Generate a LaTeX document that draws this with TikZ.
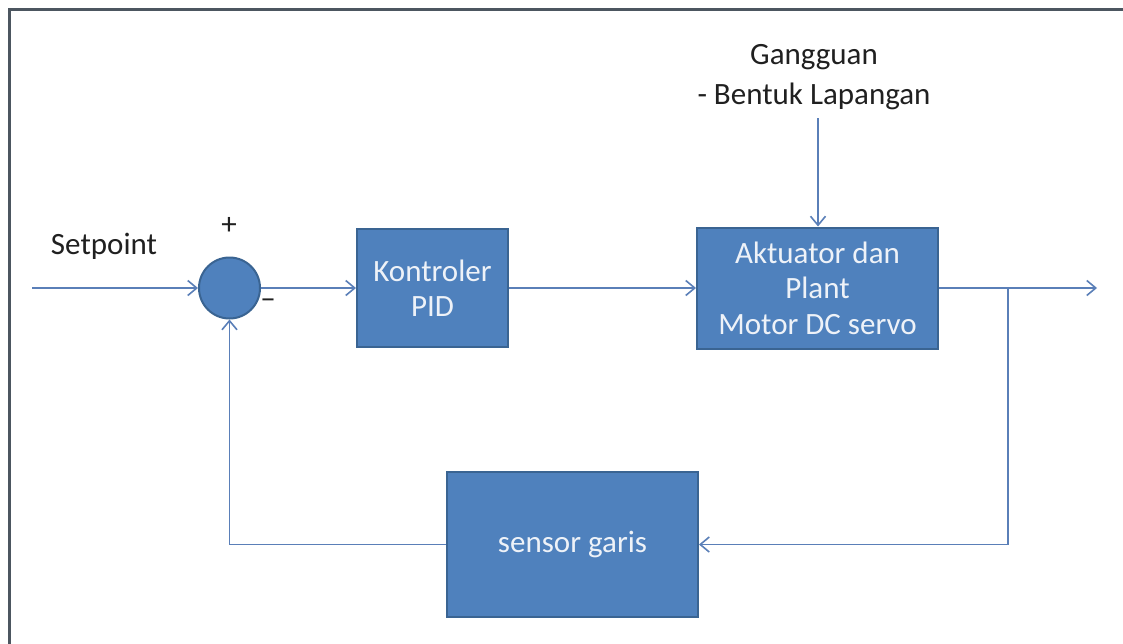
\documentclass[tikz,border=0pt]{standalone}
\usepackage{fontspec}
\setmainfont{Carlito}
\usetikzlibrary{arrows.meta}
\definecolor{boxfill}{HTML}{4F81BD}
\definecolor{boxline}{HTML}{3A6492}
\definecolor{linecol}{HTML}{5A7FB8}
\definecolor{framecol}{HTML}{4C5660}
\definecolor{boxtext}{HTML}{EEF2F8}
\definecolor{txt}{HTML}{202020}
\begin{document}
\begin{tikzpicture}[x=1pt,y=-1pt,
  blk/.style={draw=boxline, line width=2pt, fill=boxfill, text=boxtext, align=center,
    font=\fontsize{31}{35.5}\selectfont, inner sep=0pt},
  lbl/.style={text=txt, font=\fontsize{31}{40}\selectfont, align=center, inner sep=0pt},
  arr/.style={draw=linecol, line width=1.6pt, -{Straight Barb[length=9pt,width=15pt,line width=1.6pt]}},
  ln/.style={draw=linecol, line width=1.6pt}]
\useasboundingbox (0,0) rectangle (1123,643);
\fill[white] (0,0) rectangle (1123,643);
\draw[framecol, line width=3pt] (9,660) -- (9,9) -- (1140,9);

\node[lbl] (sp) at (104,246) {Setpoint};
\node[lbl] (plus) at (229,226) {+};
\node[lbl] (minus) at (268,304) {–};
\node[lbl] (dist) at (814,77) {Gangguan\\- Bentuk Lapangan};

\node[circle, draw=boxline, line width=2pt, fill=boxfill, minimum size=61pt, inner sep=0pt] (sum) at (229.5,288) {};
\node[blk, minimum width=151pt, minimum height=118pt] (pid) at (432.5,288) {Kontroler\\PID};
\node[blk, minimum width=241pt, minimum height=121pt] (plant) at (817.5,288) {Aktuator dan\\Plant\\Motor DC servo};
\node[blk, minimum width=251pt, minimum height=145pt] (sensor) at (572.5,544.5) {sensor garis};

\coordinate (in) at (32,288);
\coordinate (out) at (1097,288);
\coordinate (br) at (1008,288);
\coordinate (dtop) at (818,118);

\draw[arr] (in) -- (sum.west);
\draw[arr] (sum.east) -- (pid.west);
\draw[arr] (pid.east) -- (plant.west);
\draw[arr] (plant.east) -- (out);
\draw[arr] (br) |- (sensor.east);
\draw[arr] (sensor.west) -| (sum.south);
\draw[arr] (dtop) -- (dtop |- plant.north);
\end{tikzpicture}
\end{document}
